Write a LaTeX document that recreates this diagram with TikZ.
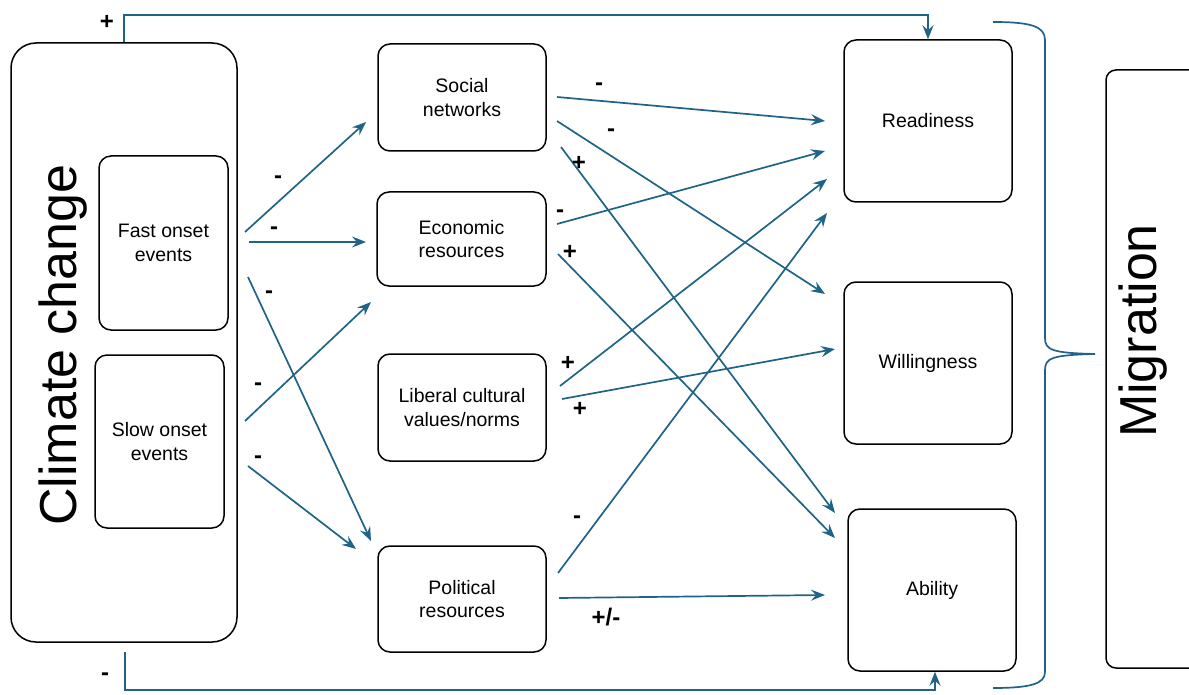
\documentclass[tikz,border=0pt]{standalone}
\usepackage{fontspec}
\setmainfont{Liberation Sans}
\usetikzlibrary{arrows.meta}
\definecolor{arrc}{RGB}{31,100,135}
\begin{document}
\begin{tikzpicture}[x=1pt,y=-1pt,
  box/.style={draw=black, line width=1.5pt, rounded corners=12pt, inner sep=0pt, align=center,
    font=\fontsize{19.5}{23.5}\selectfont},
  link/.style={draw=arrc, line width=1.7pt, -{Stealth[length=14pt,width=11pt,inset=5pt]}},
  fb/.style={draw=arrc, line width=1.7pt},
  sign/.style={font=\fontsize{24}{24}\selectfont\bfseries, inner sep=0pt},
  big/.style={font=\fontsize{52}{52}\selectfont, rotate=90, inner sep=0pt}]
\useasboundingbox (0,0) rectangle (1189,695);
% boxes
\node[box, rounded corners=25pt, minimum width=226pt, minimum height=599pt] (clim) at (124,342.5) {};
\node[big] (climtext) at (63,345) {Climate change};
\node[box, minimum width=129pt, minimum height=174pt] (fast) at (163.5,243) {Fast onset\\events};
\node[box, minimum width=129pt, minimum height=173pt] (slow) at (159.5,441.5) {Slow onset\\events};
\node[box, minimum width=168pt, minimum height=107pt] (soc) at (462,97.5) {Social\\networks};
\node[box, minimum width=169pt, minimum height=94pt] (eco) at (461.5,239) {Economic\\resources};
\node[box, minimum width=168pt, minimum height=107pt] (lib) at (462,407.5) {Liberal cultural\\values/norms};
\node[box, minimum width=168pt, minimum height=106pt] (pol) at (462,599) {Political\\resources};
\node[box, minimum width=168pt, minimum height=162pt] (read) at (928,121) {Readiness};
\node[box, minimum width=168pt, minimum height=162pt] (will) at (928,363) {Willingness};
\node[box, minimum width=168pt, minimum height=162pt] (abil) at (932,590) {Ability};
\node[box, rounded corners=10pt, minimum width=100pt, minimum height=598pt] (mig) at (1156,369) {};
\node[big] (migtext) at (1143,331) {Migration};
% endpoints
\coordinate (c1s) at (245,232); \coordinate (c1e) at (366,122);
\coordinate (c2s) at (249,242); \coordinate (c2e) at (366,242);
\coordinate (c3s) at (248,277); \coordinate (c3e) at (371,541);
\coordinate (c4s) at (245,421); \coordinate (c4e) at (371,302);
\coordinate (c5s) at (248,466); \coordinate (c5e) at (356,549);
\coordinate (a1s) at (557,97);  \coordinate (a1e) at (825,121);
\coordinate (a2s) at (557,121); \coordinate (a2e) at (825,294);
\coordinate (a3s) at (561,147); \coordinate (a3e) at (835,513);
\coordinate (a4s) at (557,224); \coordinate (a4e) at (825,151);
\coordinate (a5s) at (558,254); \coordinate (a5e) at (835,538);
\coordinate (a6s) at (560,386); \coordinate (a6e) at (827,179);
\coordinate (a7s) at (562,399); \coordinate (a7e) at (835,349);
\coordinate (a8s) at (558,573); \coordinate (a8e) at (827,213);
\coordinate (a9s) at (559,598); \coordinate (a9e) at (825,595);
% climate -> mediators
\draw[link] (c1s) -- (c1e);
\draw[link] (c2s) -- (c2e);
\draw[link] (c3s) -- (c3e);
\draw[link] (c4s) -- (c4e);
\draw[link] (c5s) -- (c5e);
% mediators -> outcomes
\draw[link] (a1s) -- (a1e);
\draw[link] (a2s) -- (a2e);
\draw[link] (a3s) -- (a3e);
\draw[link] (a4s) -- (a4e);
\draw[link] (a5s) -- (a5e);
\draw[link] (a6s) -- (a6e);
\draw[link] (a7s) -- (a7e);
\draw[link] (a8s) -- (a8e);
\draw[link] (a9s) -- (a9e);
% feedback lines
\draw[fb, -{Stealth[length=14pt,width=11pt,inset=5pt]}] (clim.north) -- (clim.north |- 0,15) -| (read.north);
\coordinate (bs) at (125,652);
\draw[fb, -{Stealth[length=14pt,width=11pt,inset=5pt]}] (bs) -- (125,690) -| ([xshift=3pt]abil.south);
% brace
\draw[fb] (993,22) .. controls (1030,22) and (1045,26) .. (1045,40) -- (1045,338)
  .. controls (1045,350) and (1052,353) .. (1095,354)
  .. controls (1052,355) and (1045,358) .. (1045,370) -- (1045,672)
  .. controls (1045,684) and (1030,688) .. (993,688);
% signs
\node[sign] (s0) at (107,22) {+};
\node[sign] (s1) at (105,677) {-};
\node[sign] (s2) at (278,180) {-};
\node[sign] (s3) at (274,231) {-};
\node[sign] (s4) at (269,295) {-};
\node[sign] (s5) at (258,387) {-};
\node[sign] (s6) at (258,460) {-};
\node[sign] (s7) at (599,87) {-};
\node[sign] (s8) at (611,133) {-};
\node[sign] (s9) at (579,163) {+};
\node[sign] (s10) at (560,214) {-};
\node[sign] (s11) at (570,252) {+};
\node[sign] (s12) at (568,363) {+};
\node[sign] (s13) at (580,409) {+};
\node[sign] (s14) at (577,520) {-};
\node[sign] (s15) at (606,617) {+/-};
\end{tikzpicture}
\end{document}
